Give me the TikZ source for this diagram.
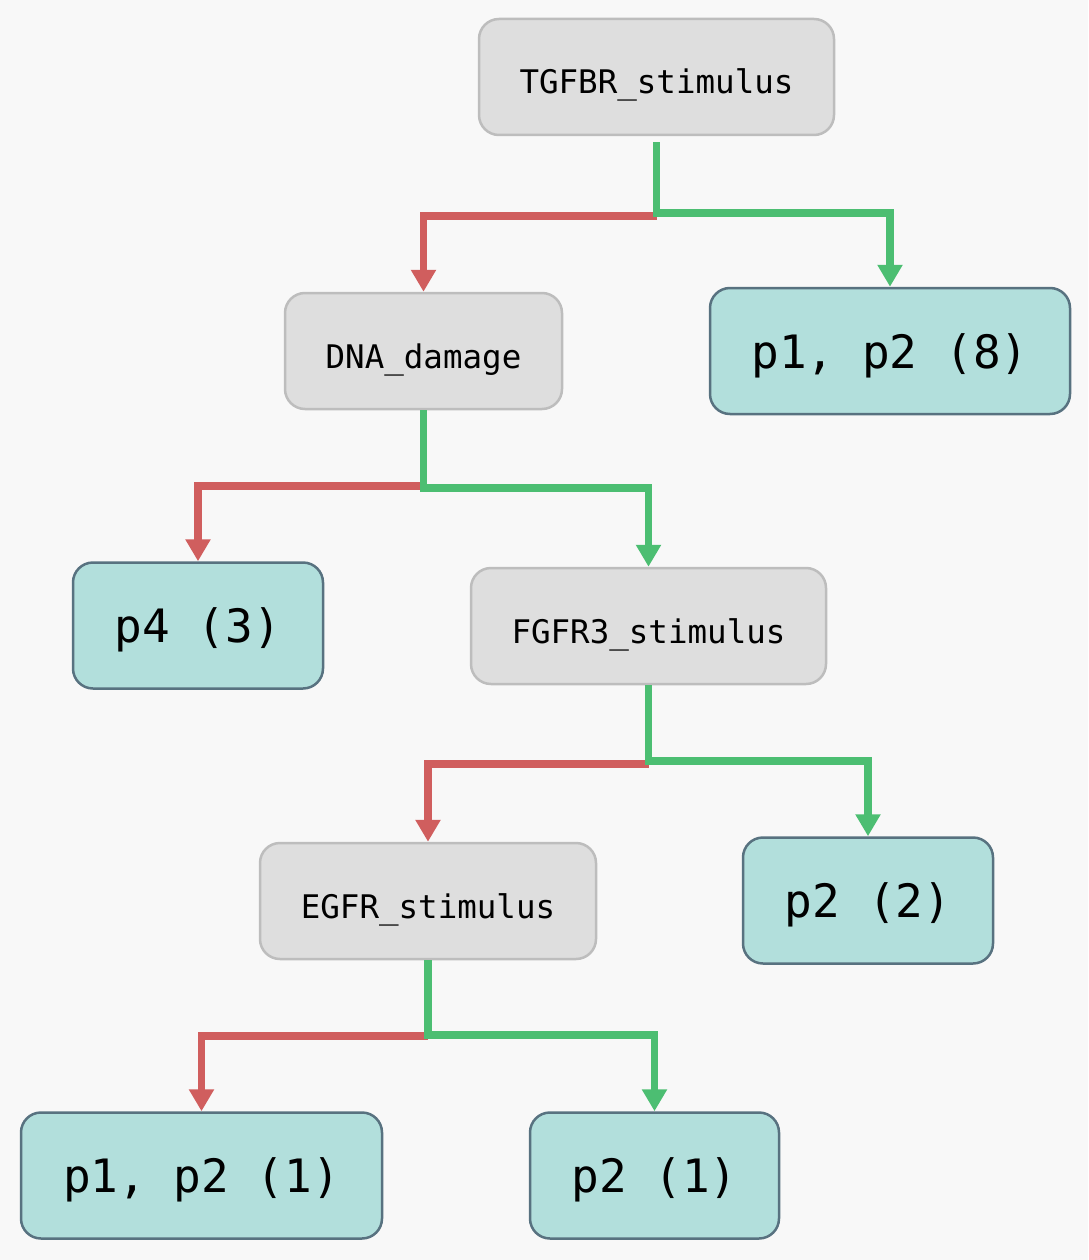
\documentclass[tikz,border=0pt]{standalone}
\usepackage{fontspec}
\setmonofont{DejaVu Sans Mono}
\usetikzlibrary{arrows.meta}
\definecolor{bgc}{HTML}{F8F8F8}
\definecolor{decfill}{HTML}{DEDEDE}
\definecolor{decdraw}{HTML}{BDBDBD}
\definecolor{leaffill}{HTML}{B2DFDC}
\definecolor{leafdraw}{HTML}{587280}
\definecolor{redc}{HTML}{D05E5E}
\definecolor{greenc}{HTML}{4CBE72}
\tikzset{
  decision/.style={draw=decdraw, fill=decfill, line width=2.5pt, rounded corners=20pt,
    minimum height=116pt, font=\ttfamily\fontsize{32.5}{36}\selectfont, inner sep=0pt,
    text height=34pt, text depth=0pt},
  leaf/.style={draw=leafdraw, fill=leaffill, line width=2.5pt, rounded corners=20pt,
    minimum height=126pt, font=\ttfamily\fontsize{46}{50}\selectfont, inner sep=0pt,
    text height=34pt, text depth=0pt},
  redline/.style={draw=redc, line width=7.5pt, -{Triangle[length=22pt,width=24pt]}},
  greenline/.style={draw=greenc, line width=7.5pt, -{Triangle[length=22pt,width=24pt]}},
}
\begin{document}
\begin{tikzpicture}[x=1pt,y=-1pt]
\fill[bgc] (0,0) rectangle (1088,1260);
\useasboundingbox (0,0) rectangle (1088,1260);

\node[decision, minimum width=355pt] (tgf) at (656.5,77) {TGFBR\_stimulus};
\node[decision, minimum width=277pt] (dna) at (423.5,351) {DNA\_damage};
\node[leaf, minimum width=360pt] (l8) at (890,351) {p1, p2 (8)};
\node[leaf, minimum width=250pt] (l3) at (198,625.5) {p4 (3)};
\node[decision, minimum width=355pt] (fgf) at (648.5,626) {FGFR3\_stimulus};
\node[decision, minimum width=336pt] (egf) at (428,901) {EGFR\_stimulus};
\node[leaf, minimum width=250pt] (l2) at (868,900.5) {p2 (2)};
\node[leaf, minimum width=361pt] (l1a) at (201.5,1175.5) {p1, p2 (1)};
\node[leaf, minimum width=249pt] (l1b) at (654.5,1175.5) {p2 (1)};

\coordinate (tgfs) at ([yshift=-6pt]tgf.south);
% TGFBR
\draw[redline] (tgfs |- 0,216) -| (dna.north);
\draw[greenline] (tgfs) -- (tgfs |- 0,213) -| (l8.north);
% DNA
\draw[redline] (dna.south |- 0,486) -| (l3.north);
\draw[greenline] (dna.south) -- (dna.south |- 0,488) -| (fgf.north);
% FGFR3
\draw[redline] (fgf.south |- 0,764) -| (egf.north);
\draw[greenline] (fgf.south) -- (fgf.south |- 0,761) -| (l2.north);
% EGFR
\draw[redline] (egf.south |- 0,1036) -| (l1a.north);
\draw[greenline] (egf.south) -- (egf.south |- 0,1035) -| (l1b.north);
\end{tikzpicture}
\end{document}
